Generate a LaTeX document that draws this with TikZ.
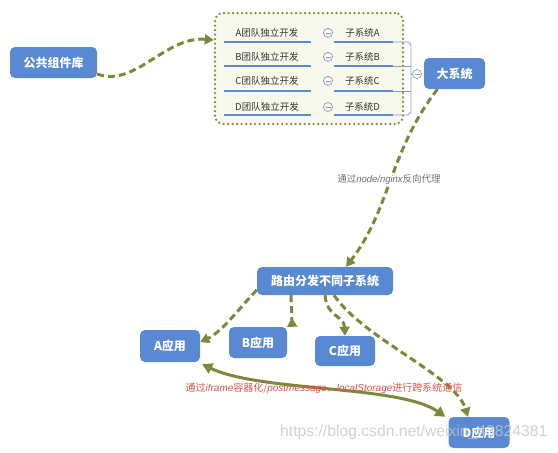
\documentclass[tikz,border=0pt]{standalone}
\usepackage{fontspec}
\newfontfamily\cjk{Noto Sans CJK SC}
\newfontfamily\lsans{Liberation Sans}
\usetikzlibrary{arrows.meta}
\definecolor{boxblue}{RGB}{88,137,210}
\definecolor{olivegr}{RGB}{122,138,58}
\definecolor{panel}{RGB}{247,249,236}
\definecolor{linegray}{RGB}{140,155,190}
\definecolor{redtxt}{RGB}{225,80,70}
\definecolor{txtgray}{RGB}{110,110,110}
\begin{document}
\begin{tikzpicture}[x=1pt,y=-1pt,
  blk/.style={rounded corners=5pt, fill=boxblue, text=white, font=\cjk\bfseries\fontsize{12}{14}\selectfont, inner sep=0pt},
  rowtxt/.style={font=\cjk\fontsize{9.5}{11}\selectfont, text=black!80, inner sep=0pt},
  uline/.style={draw=boxblue, line width=2.5pt},
  brk/.style={draw=linegray, line width=0.8pt},
  dsh/.style={draw=olivegr, line width=3pt, dash pattern=on 7pt off 4pt, -{Triangle[length=9pt,width=10pt]}},
  dshrev/.style={draw=olivegr, line width=3pt, dash pattern=on 7pt off 4pt, -{Triangle[reversed,length=9pt,width=10pt]}},
  solidarr/.style={draw=olivegr, line width=3pt, {Triangle[length=10pt,width=11pt]}-{Triangle[length=10pt,width=11pt]}},
  minuscirc/.style={circle, draw=linegray, line width=0.7pt, minimum size=9pt, inner sep=0pt,
    path picture={\draw[linegray,line width=0.7pt] ([xshift=-2.5pt]path picture bounding box.center) -- ([xshift=2.5pt]path picture bounding box.center);}},
]
\useasboundingbox (0,0) rectangle (558,453);

% panel
\node[draw=olivegr, line width=2.5pt, dash pattern=on 0pt off 4.5pt, line cap=round, rounded corners=8pt, fill=panel, minimum width=188pt, minimum height=111pt, inner sep=0pt] (grp) at (309,68.5) {};

\foreach \L/\yt/\yu in {A/33/42,B/57/66,C/81/91,D/107/115}{
  \draw[uline] (224,\yu) -- (311,\yu);
  \draw[uline] (334,\yu) -- (393,\yu);
  \node[rowtxt] (t\L) at (267,\yt) {\L 团队独立开发};
  \node[minuscirc] (m\L) at (328,\yt) {};
  \node[rowtxt] (s\L) at (362.5,\yt) {子系统\L};
}
\draw[brk, rounded corners=4pt] (393,42) -- (411,42) -- (411,115) -- (393,115);
\draw[brk] (393,66) -- (411,66);
\draw[brk] (393,91) -- (411,91);
\node[minuscirc] (mbig) at (417,74) {};
\draw[brk] (411,74) -- (mbig.west);

% boxes
\node[blk, minimum width=87pt, minimum height=31pt] (lib) at (53.5,62.5) {公共组件库};
\node[blk, minimum width=61pt, minimum height=31pt] (big) at (454.5,73.5) {大系统};
\node[blk, minimum width=136pt, minimum height=28pt] (route) at (325,281) {路由分发不同子系统};
\node[blk, minimum width=60pt, minimum height=32pt] (appA) at (170,346) {A应用};
\node[blk, minimum width=58pt, minimum height=31pt] (appB) at (258,342.5) {B应用};
\node[blk, minimum width=60pt, minimum height=30pt] (appC) at (345,351) {C应用};
\node[blk, minimum width=61pt, minimum height=31pt] (appD) at (479,432.5) {D应用};

% connectors
\draw[dsh] ([yshift=-11.5pt]lib.east) .. controls (135,88) and (165,36) .. ([yshift=28.5pt]grp.west);
\draw[dsh] ([xshift=-17pt]big.south) .. controls (390,150) and (390,210) .. ([xshift=21pt]route.north);
\node[fill=white, inner sep=1pt, font=\cjk\fontsize{9.5}{11}\selectfont, text=txtgray] (lbl1) at (389,179) {通过{\lsans\itshape node/nginx}反向代理};

\draw[dsh] ([yshift=-9pt]route.west) .. controls (242,305) and (222,332) .. ([yshift=4pt]appA.east);
\draw[dshrev] ([xshift=-34pt]route.south) -- ([xshift=5pt]appB.north east);
\draw[dsh] (route.south) .. controls (327,318) and (344,315) .. (appC.north);
\draw[dsh] ([xshift=9pt]route.south) .. controls (365,340) and (455,375) .. ([xshift=-11pt]appD.north);

\draw[solidarr] ([xshift=2pt,yshift=-2pt]appA.south east) .. controls (260,392) and (400,385) .. ([xshift=-3pt]appD.north west);
\node[text=redtxt, font=\cjk\fontsize{10}{12}\selectfont, inner sep=0pt] (lbl2) at (324,388) {通过{\lsans\itshape iframe}容器化/{\lsans\itshape postmessage}、{\lsans\itshape localStorage}进行跨系统通信};

\node[font=\lsans\fontsize{15.7}{18}\selectfont, text=gray!45, text opacity=0.8, anchor=west, inner sep=0pt] (wm) at (280,432) {https://blog.csdn.net/weixin\_43824381};
\end{tikzpicture}
\end{document}
